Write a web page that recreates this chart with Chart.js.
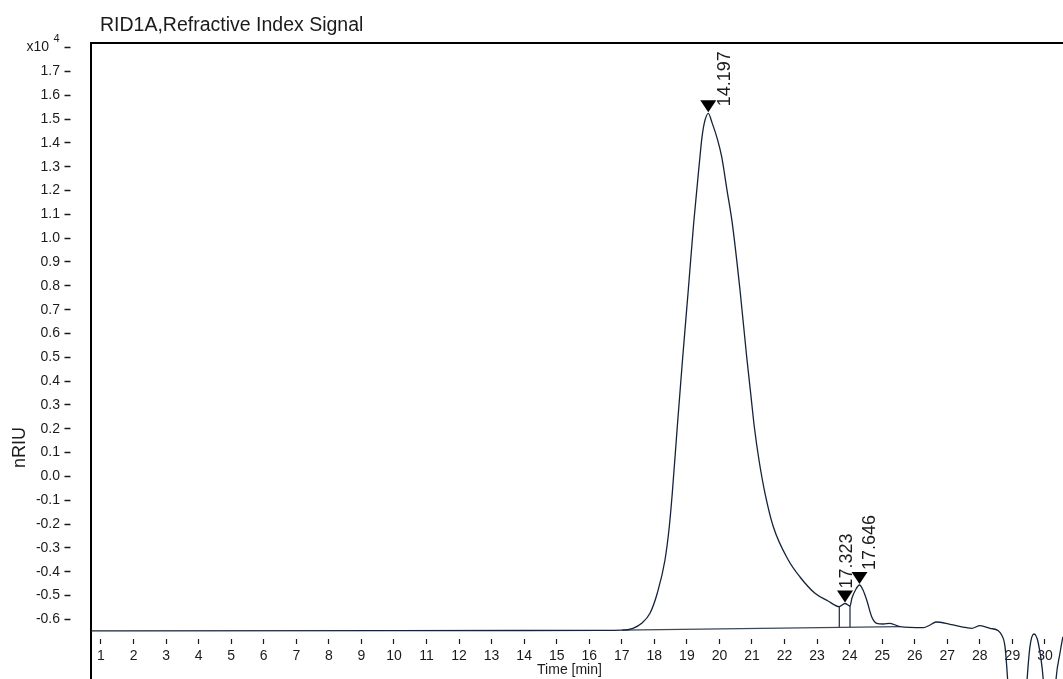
<!DOCTYPE html>
<html>
<head>
<meta charset="utf-8">
<script src="https://cdn.jsdelivr.net/npm/chart.js@4.4.1/dist/chart.umd.min.js"></script>
<style>
  html, body { margin: 0; padding: 0; background: #ffffff; }
  #wrap { width: 1063px; height: 679px; position: relative; }
</style>
</head>
<body>
<div id="wrap"><canvas id="chrom"></canvas></div>
<script>
// RID1A refractive index trace: time (min) against signal (nRIU)
const timeMin = [
  0.693, 10.0, 16.33, 17.006, 17.344, 17.611, 17.866, 18.09, 18.327, 18.459,
  18.551, 18.705, 18.865, 19.043, 19.209, 19.402, 19.453, 19.533, 19.657, 19.78,
  19.946, 20.069, 20.232, 20.395, 20.632, 20.837, 20.96, 21.071, 21.215, 21.4,
  21.655, 22.115, 22.475, 22.936, 23.335, 23.682, 23.857, 24.011, 24.072, 24.18,
  24.303, 24.41, 24.524, 24.677, 24.831, 25.034, 25.239, 25.547, 26.263, 26.469,
  26.653, 27.083, 27.596, 27.75, 28.005, 28.312, 28.567, 28.671, 28.773, 29.14,
  29.54, 29.663, 29.795, 29.949, 30.155, 30.34, 30.463, 30.555, 30.71
];
const signalNRIU = [
  -6477, -6474, -6460, -6452, -6372, -6162, -5742, -4903, -3506, -2109,
  -707, 2087, 4886, 7823, 10635, 13417, 14117, 14818, 15238, 14818,
  14117, 13417, 12020, 10622, 7823, 5025, 3489, 2087, 690, -707,
  -2109, -3506, -4219, -4903, -5226, -5466, -5332, -5436, -5100, -4764,
  -4555, -4764, -5184, -5885, -6162, -6191, -6162, -6305, -6347, -6233,
  -6107, -6204, -6347, -6372, -6263, -6372, -6473, -6653, -7144, -13576,
  -7144, -6611, -6989, -8521, -12898, -8521, -7409, -6724, -6024
];

// integration baseline under the peak group
const baselineTime = [17.006, 25.547];
const baselineSignal = [-6452, -6305];

// peak split (drop) lines
const dropTime = [23.682, 24.011];
const dropTop = [-5466, -5436];
const dropBottom = [-6340, -6334];

// detected peaks and their retention-time labels
const peakTime = [19.657, 23.857, 24.303];
const peakSignal = [15238, -5332, -4555];
const peakLabels = ['14.197', '17.323', '17.646'];

// axis ticks
const xTicks = [1, 2, 3, 4, 5, 6, 7, 8, 9, 10, 11, 12, 13, 14, 15, 16, 17, 18, 19, 20,
                21, 22, 23, 24, 25, 26, 27, 28, 29, 30];
const yTicks = [-6000, -5000, -4000, -3000, -2000, -1000, 0, 1000, 2000, 3000, 4000,
                5000, 6000, 7000, 8000, 9000, 10000, 11000, 12000, 13000, 14000,
                15000, 16000, 17000, 18000];

const INK = '#1b1b1b';
const TRACE = '#14233a';
const FONT = '"Liberation Sans", Arial, Helvetica, sans-serif';

Chart.defaults.font.family = FONT;
Chart.defaults.color = INK;

const toPoints = (xs, ys) => xs.map((x, i) => ({ x: x, y: ys[i] }));

const datasets = [
  {
    label: 'RID1A',
    data: toPoints(timeMin, signalNRIU),
    borderColor: TRACE,
    borderWidth: 1.3,
    pointRadius: 0,
    cubicInterpolationMode: 'monotone',
    fill: false
  },
  {
    label: 'baseline',
    data: toPoints(baselineTime, baselineSignal),
    borderColor: '#3a4858',
    borderWidth: 1.3,
    pointRadius: 0,
    tension: 0,
    fill: false
  }
];
dropTime.forEach((t, i) => {
  datasets.push({
    label: 'drop' + (i + 1),
    data: [{ x: t, y: dropBottom[i] }, { x: t, y: dropTop[i] }],
    borderColor: TRACE,
    borderWidth: 1.2,
    pointRadius: 0,
    tension: 0,
    fill: false
  });
});

// frame line along the top of the plot area
const framePlugin = {
  id: 'frame',
  afterDraw(chart) {
    const { ctx, chartArea } = chart;
    ctx.save();
    ctx.strokeStyle = '#000000';
    ctx.lineWidth = 2;
    ctx.beginPath();
    ctx.moveTo(chartArea.left - 1, chartArea.top);
    ctx.lineTo(chartArea.right, chartArea.top);
    ctx.stroke();
    ctx.restore();
  }
};

// peak markers: filled down-pointing triangles with rotated labels
const peakPlugin = {
  id: 'peaks',
  afterDatasetsDraw(chart, args, opts) {
    const { ctx } = chart;
    const xs = chart.scales.x, ys = chart.scales.y;
    ctx.save();
    peakTime.forEach((t, i) => {
      const px = xs.getPixelForValue(t);
      const py = ys.getPixelForValue(peakSignal[i]);
      ctx.fillStyle = '#000000';
      ctx.beginPath();
      ctx.moveTo(px, py - 1);
      ctx.lineTo(px - 8, py - 13);
      ctx.lineTo(px + 8, py - 13);
      ctx.closePath();
      ctx.fill();
      const off = opts.labelOffset[i];
      ctx.save();
      ctx.translate(px + off[0], py + off[1]);
      ctx.rotate(-Math.PI / 2);
      ctx.fillStyle = INK;
      ctx.font = '18px ' + FONT;
      ctx.textAlign = 'left';
      ctx.textBaseline = 'alphabetic';
      ctx.fillText(peakLabels[i], 0, 0);
      ctx.restore();
    });
    ctx.restore();
  }
};

// chart title, exponent of the signal axis, and the axis captions
const captionPlugin = {
  id: 'captions',
  afterDraw(chart) {
    const { ctx, chartArea } = chart;
    ctx.save();
    ctx.fillStyle = INK;
    ctx.font = '19.5px ' + FONT;
    ctx.textAlign = 'left';
    ctx.textBaseline = 'alphabetic';
    ctx.fillText('RID1A,Refractive Index Signal', chartArea.left + 9, 30.5);

    const ys = chart.scales.y;
    ctx.font = '11px ' + FONT;
    ctx.fillText('4', 53.5, ys.getPixelForValue(18000) - 6);

    ctx.font = '14px ' + FONT;
    ctx.textAlign = 'center';
    ctx.textBaseline = 'middle';
    ctx.fillText('Time [min]', chartArea.left + 478.5, 670);

    ctx.save();
    ctx.translate(20, 447.5);
    ctx.rotate(-Math.PI / 2);
    ctx.font = '18px ' + FONT;
    ctx.textAlign = 'center';
    ctx.textBaseline = 'middle';
    ctx.fillText('nRIU', 0, 0);
    ctx.restore();
    ctx.restore();
  }
};

new Chart(document.getElementById('chrom'), {
  type: 'line',
  data: { datasets: datasets },
  options: {
    responsive: true,
    maintainAspectRatio: false,
    animation: false,
    events: [],
    layout: { padding: { top: 43, right: 0, bottom: 0, left: 0 } },
    plugins: {
      legend: { display: false },
      tooltip: { enabled: false },
      title: { display: false },
      peaks: { labelOffset: [[21.5, -7], [7, -15], [15.5, -15]] }
    },
    scales: {
      x: {
        type: 'linear',
        min: 0.693,
        max: 30.555,
        position: { y: -6841 },
        border: { display: false },
        grid: {
          drawOnChartArea: false,
          drawTicks: true,
          tickLength: 5,
          tickColor: INK,
          tickWidth: 1.2
        },
        ticks: {
          font: { size: 14 },
          color: INK,
          padding: 3,
          maxRotation: 0,
          autoSkip: false,
          includeBounds: false,
          callback: (v) => String(v)
        },
        afterBuildTicks(scale) {
          scale.ticks = xTicks.map(v => ({ value: v }));
        },
        afterFit(scale) {
          scale.height = 0;
          scale.paddingLeft = 0;
          scale.paddingRight = 0;
          scale.paddingTop = 0;
          scale.paddingBottom = 0;
        }
      },
      y: {
        type: 'linear',
        min: -8500,
        max: 18190,
        position: 'left',
        border: { display: true, color: '#000000', width: 2 },
        grid: {
          drawOnChartArea: false,
          drawTicks: true,
          tickLength: 28,
          tickColor: INK,
          tickWidth: 1.3,
          tickBorderDash: [0, 1.5, 6, 200]
        },
        ticks: {
          font: { size: 14 },
          color: INK,
          padding: 3,
          autoSkip: false,
          includeBounds: false,
          callback: (v) => v === 18000 ? 'x10\u2002 ' : (v / 10000).toFixed(1)
        },
        afterBuildTicks(scale) {
          scale.ticks = yTicks.map(v => ({ value: v }));
        },
        afterFit(scale) {
          scale.width = 91;
          scale.paddingTop = 0;
          scale.paddingBottom = 0;
        }
      }
    }
  },
  plugins: [framePlugin, peakPlugin, captionPlugin]
});
</script>
</body>
</html>
